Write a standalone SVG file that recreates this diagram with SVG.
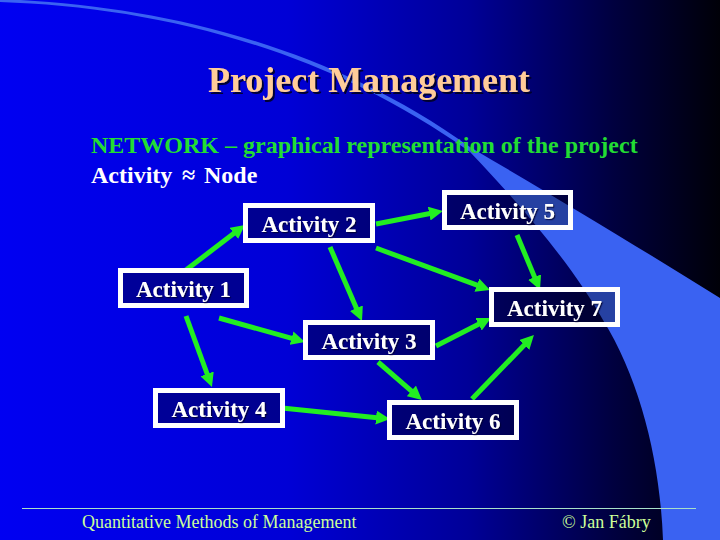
<svg xmlns="http://www.w3.org/2000/svg" width="720" height="540" viewBox="0 0 720 540">
  <defs>
    <linearGradient id="bg" x1="0" y1="0" x2="1" y2="0">
      <stop offset="0" stop-color="#0000f2"/>
      <stop offset="0.4" stop-color="#0000d6"/>
      <stop offset="0.65" stop-color="#000098"/>
      <stop offset="0.85" stop-color="#000040"/>
      <stop offset="1" stop-color="#000008"/>
    </linearGradient>
    <filter id="shadow" x="-5%" y="-20%" width="110%" height="140%">
      <feDropShadow dx="2" dy="2" stdDeviation="0.6" flood-color="#000020" flood-opacity="0.9"/>
    </filter>
    <filter id="shadowS" x="-5%" y="-20%" width="110%" height="140%">
      <feDropShadow dx="1.2" dy="1.2" stdDeviation="0.4" flood-color="#000030" flood-opacity="0.8"/>
    </filter>
    <marker id="ah" viewBox="0 0 14 14" refX="6" refY="7" markerWidth="14" markerHeight="14" markerUnits="userSpaceOnUse" orient="auto">
      <path d="M0,0 L14,7 L0,14 Z" fill="#22ee22"/>
    </marker>
    <style>
      .title { font-family: "Liberation Serif", "Times New Roman", serif; font-weight: bold; font-size: 36px; text-anchor: middle; fill: #ffcc99; filter: url(#shadow); }
      .sub { font-family: "Liberation Serif", "Times New Roman", serif; font-weight: bold; font-size: 24px; }
      .box { fill: #000000; fill-opacity: 0.33; stroke: #ffffff; stroke-width: 5; }
      .lbl { font-family: "Liberation Serif", "Times New Roman", serif; font-weight: bold; font-size: 23px; text-anchor: middle; fill: #ffffff; filter: url(#shadowS); }
      .arrow { stroke: #22ee22; stroke-width: 5; fill: none; marker-end: url(#ah); }
      .foot { font-family: "Liberation Serif", "Times New Roman", serif; font-size: 18px; fill: #ccff99; }
    </style>
  </defs>

  <!-- background -->
  <rect x="0" y="0" width="720" height="540" fill="url(#bg)"/>
  <path d="M 0,-1 C 150,5 320,40 470,147 C 560,200 640,248 720,298 L 720,540 L 663,540 C 660,460 640,380 603,320 C 575,270 530,215 470,152 C 320,45 150,7 0,2 Z" fill="#3a62f2"/>

  <!-- header texts -->
  <text class="title" x="369" y="92">Project Management</text>
  <text class="sub" x="91" y="153" fill="#22dd33">NETWORK – graphical representation of the project</text>
  <text class="sub" x="91" y="183" fill="#ffffff">Activity<tspan x="182">≈</tspan><tspan x="204">Node</tspan></text>

  <!-- connectors -->
  <g id="connectors">
    <line class="arrow" x1="186" y1="270" x2="238.6" y2="229.8"/>
    <line class="arrow" x1="376" y1="224" x2="435.1" y2="212.5"/>
    <line class="arrow" x1="330" y1="247" x2="358.8" y2="313.7"/>
    <line class="arrow" x1="376" y1="248" x2="482.5" y2="287.2"/>
    <line class="arrow" x1="517" y1="235" x2="536.9" y2="282.6"/>
    <line class="arrow" x1="219" y1="318" x2="297.3" y2="339.8"/>
    <line class="arrow" x1="186" y1="316" x2="209.2" y2="379.5"/>
    <line class="arrow" x1="436" y1="346" x2="483.9" y2="321.6"/>
    <line class="arrow" x1="378" y1="362" x2="415.9" y2="394.8"/>
    <line class="arrow" x1="282" y1="408" x2="382.0" y2="418.2"/>
    <line class="arrow" x1="472" y1="399" x2="528.4" y2="340.7"/>
  </g>

  <!-- nodes -->
  <g id="activity1">
    <rect class="box" x="120.5" y="270.5" width="126" height="35"/>
    <text class="lbl" x="183.5" y="297">Activity 1</text>
  </g>
  <g id="activity2">
    <rect class="box" x="245.5" y="205.5" width="127" height="35"/>
    <text class="lbl" x="309" y="232">Activity 2</text>
  </g>
  <g id="activity3">
    <rect class="box" x="305.5" y="322.5" width="127" height="35"/>
    <text class="lbl" x="369" y="349">Activity 3</text>
  </g>
  <g id="activity4">
    <rect class="box" x="155.5" y="390.5" width="127" height="35"/>
    <text class="lbl" x="219" y="417">Activity 4</text>
  </g>
  <g id="activity5">
    <rect class="box" x="444.5" y="192.5" width="126" height="35"/>
    <text class="lbl" x="507.5" y="219">Activity 5</text>
  </g>
  <g id="activity6">
    <rect class="box" x="389.5" y="402.5" width="127" height="35"/>
    <text class="lbl" x="453" y="429">Activity 6</text>
  </g>
  <g id="activity7">
    <rect class="box" x="491.5" y="289.5" width="126" height="35"/>
    <text class="lbl" x="554.5" y="316">Activity 7</text>
  </g>

  <!-- footer -->
  <line x1="22" y1="508.5" x2="696" y2="508.5" stroke="#a8e0c8" stroke-width="1"/>
  <text class="foot" x="82" y="528">Quantitative Methods of Management</text>
  <text class="foot" x="562" y="528">© Jan Fábry</text>
</svg>
